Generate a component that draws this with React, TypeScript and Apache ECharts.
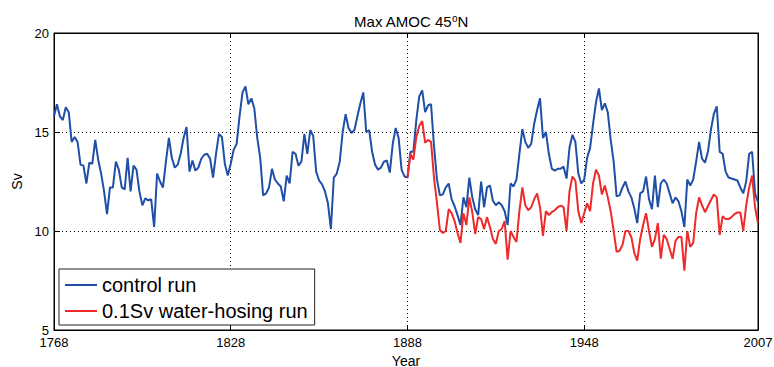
import React, { useEffect, useRef } from "react";
import * as echarts from "echarts";

const FIRST_YEAR = 1768;
const LAST_YEAR = 2007;
const HOSING_START = 1888;
const xLabelYears = [1768, 1828, 1888, 1948, 2007];
const xGridYears = [1828, 1888, 1948];
const yMin = 5;
const yMax = 20;
const yStep = 5;

// control run, one value per year 1768..2007
const controlRun = [
  15.8, 16.4, 15.8, 15.6, 16.25, 16.0, 14.5, 14.75, 14.5, 13.35,
  13.3, 12.4, 13.45, 13.4, 14.6, 13.6, 12.9, 12.0, 10.85, 12.2,
  12.2, 13.5, 13.1, 12.2, 12.1, 13.7, 12.0, 13.3, 13.1, 12.0,
  11.3, 11.65, 11.55, 11.6, 10.2, 12.9, 12.5, 12.2, 13.5, 14.7,
  13.7, 13.2, 13.35, 13.9, 14.7, 15.25, 13.0, 13.56, 13.05, 13.2,
  13.65, 13.85, 13.9, 13.65, 12.7, 13.9, 14.9, 14.75, 13.4, 12.8,
  13.4, 14.1, 14.4, 15.8, 17.0, 17.3, 16.4, 16.7, 16.2, 14.7,
  13.7, 11.8, 11.9, 12.2, 13.14, 12.6, 12.4, 12.25, 11.5, 12.8,
  12.4, 14.0, 13.9, 13.3, 13.5, 14.9, 13.9, 15.1, 14.8, 13.0,
  12.55, 12.35, 12.0, 11.4, 10.1, 12.7, 12.9, 13.5, 15.0, 15.9,
  15.2, 14.95, 15.1, 15.8, 16.44, 17.0, 15.0, 15.1, 14.0, 13.35,
  13.1, 13.2, 13.5, 13.56, 12.95, 14.4, 15.2, 14.7, 13.1, 12.75,
  12.7, 14.0, 14.0, 15.6, 16.8, 17.1, 16.0, 16.35, 16.4, 14.3,
  12.63, 11.8, 11.85, 12.2, 12.4, 11.6, 11.25, 10.8, 10.3, 11.7,
  11.2, 12.7, 11.7, 11.1, 10.8, 12.5, 11.2, 12.2, 12.3, 11.53,
  11.3, 11.45, 11.3, 11.0, 10.3, 12.4, 12.25, 12.6, 13.9, 15.15,
  14.5, 14.2, 14.4, 15.4, 16.1, 16.7, 14.7, 15.0, 13.9, 13.15,
  13.05, 13.14, 13.15, 13.25, 12.65, 14.2, 14.85, 14.5, 12.9, 12.4,
  12.6, 13.7, 14.2, 15.4, 16.5, 17.2, 16.1, 16.45, 16.0, 14.6,
  13.5, 11.75, 11.8, 12.2, 12.5, 12.0, 11.7, 11.15, 10.4, 11.9,
  12.0, 12.75, 11.6, 11.1, 12.8, 11.2, 12.4, 12.6, 12.4, 11.9,
  11.4, 11.7, 11.5, 11.0, 10.2, 12.6, 12.3, 12.6, 13.5, 14.5,
  13.65, 13.45, 14.0, 15.1, 15.9, 16.3, 14.0, 13.9, 13.0, 12.7,
  12.65, 12.6, 12.55, 12.2, 11.9, 12.5, 13.9, 14.0, 11.9, 11.45,
];

// 0.1Sv water-hosing run, one value per year 1888..2007
const hosingRun = [
  12.7, 13.9, 13.6, 14.75, 15.3, 15.55, 14.45, 14.6, 14.5, 12.7,
  11.45, 10.05, 9.9, 10.0, 11.1, 10.9, 10.5, 9.9, 9.4, 10.9,
  10.3, 11.7, 10.95, 9.85, 10.7, 10.6, 10.1, 10.7, 10.2, 9.6,
  9.35, 10.0, 10.1, 10.5, 8.55, 10.0, 9.7, 9.45, 11.0, 12.2,
  11.3, 11.05, 11.2, 11.6, 11.9, 11.2, 9.75, 11.0, 10.8, 10.95,
  11.05, 11.2, 11.28, 11.2, 10.0, 12.0, 12.75, 12.55, 11.0, 10.4,
  10.9, 11.4, 11.0, 12.4, 13.1, 12.8, 11.85, 12.3, 11.7, 11.0,
  10.0, 8.95, 9.0, 9.3, 10.0, 10.0, 9.7, 8.9, 8.5, 9.6,
  10.3, 10.9, 10.0, 9.2, 9.6, 10.4, 8.6, 9.8, 9.6, 9.1,
  8.6, 9.5, 9.7, 9.7, 8.0, 10.0, 9.2, 9.4, 10.9, 11.7,
  11.3, 10.95, 11.25, 11.55, 11.85, 11.7, 9.8, 10.75, 10.6, 10.6,
  10.7, 10.85, 10.94, 10.94, 10.0, 11.3, 12.2, 12.8, 11.2, 10.4,
];

const FONT = "'Liberation Sans', Arial, Helvetica, sans-serif";

export default function App() {
  const ref = useRef<HTMLDivElement>(null);

  useEffect(() => {
    if (!ref.current) return;
    const chart = echarts.init(ref.current, undefined, { renderer: "svg" });

    const years: string[] = [];
    for (let y = FIRST_YEAR; y <= LAST_YEAR; y++) years.push(String(y));
    const hosingData = years.map((y) => {
      const i = Number(y) - HOSING_START;
      return i >= 0 ? hosingRun[i] : "-";
    });

    const isLabel = (_i: number, v: string) => xLabelYears.includes(Number(v));
    const isGrid = (_i: number, v: string) => xGridYears.includes(Number(v));

    chart.setOption({
      animation: false,
      backgroundColor: "#fff",
      title: {
        text: "Max AMOC 45{sup|o}N",
        left: 406,
        textAlign: "center",
        top: 8,
        textStyle: {
          fontFamily: FONT,
          fontSize: 15,
          fontWeight: "normal",
          color: "#000",
          rich: {
            sup: { fontSize: 10, verticalAlign: "top", fontFamily: FONT, color: "#000", padding: [0, 0, 7, 0] },
          },
        },
      },
      grid: {
        left: 54,
        right: 16,
        top: 33,
        bottom: 37,
        outerBoundsMode: "none",
        containLabel: false,
        show: true,
        borderColor: "#000",
        borderWidth: 1,
        backgroundColor: "#fff",
      },
      legend: {
        orient: "vertical",
        left: 59,
        top: 269,
        backgroundColor: "#fff",
        borderColor: "#222",
        borderWidth: 1,
        borderRadius: 0,
        padding: [6, 7, 4, 6],
        itemGap: 6,
        itemWidth: 32,
        itemHeight: 2,
        textStyle: { fontFamily: FONT, fontSize: 20, color: "#000" },
        data: [
          { name: "control run", icon: "rect" },
          { name: "0.1Sv water-hosing run", icon: "rect" },
        ],
      },
      xAxis: [
        {
          type: "category",
          data: years,
          boundaryGap: false,
          name: "Year",
          nameLocation: "middle",
          nameGap: 21,
          nameTextStyle: { fontFamily: FONT, fontSize: 14, lineHeight: 14, color: "#000" },
          axisLine: { lineStyle: { color: "#000", width: 1 } },
          axisTick: { inside: true, length: 5, interval: isLabel, lineStyle: { color: "#000" } },
          axisLabel: {
            interval: isLabel,
            fontFamily: FONT,
            fontSize: 13,
            lineHeight: 13,
            color: "#000",
            margin: 6,
            showMinLabel: true,
            showMaxLabel: true,
          },
          splitLine: {
            show: true,
            interval: isGrid,
            lineStyle: { color: "#000", width: 1, type: [1, 3] },
          },
        },
        {
          type: "category",
          data: years,
          boundaryGap: false,
          position: "top",
          axisLine: { lineStyle: { color: "#000" } },
          axisTick: { inside: true, length: 5, interval: isLabel, lineStyle: { color: "#000" } },
          axisLabel: { show: false },
          splitLine: { show: false },
        },
      ],
      yAxis: [
        {
          type: "value",
          min: yMin,
          max: yMax,
          interval: yStep,
          name: "Sv",
          nameLocation: "middle",
          nameGap: 25,
          nameRotate: 90,
          nameTextStyle: { fontFamily: FONT, fontSize: 14, color: "#000" },
          axisLine: { show: true, lineStyle: { color: "#000" } },
          axisTick: { show: true, inside: true, length: 6, lineStyle: { color: "#000" } },
          axisLabel: { fontFamily: FONT, fontSize: 13, lineHeight: 11, color: "#000", margin: 5 },
          splitLine: { show: true, lineStyle: { color: "#000", width: 1, type: [1, 3] } },
        },
        {
          type: "value",
          min: yMin,
          max: yMax,
          interval: yStep,
          position: "right",
          axisLine: { show: true, lineStyle: { color: "#000" } },
          axisTick: { show: true, inside: true, length: 6, lineStyle: { color: "#000" } },
          axisLabel: { show: false },
          splitLine: { show: false },
        },
      ],
      series: [
        {
          name: "control run",
          type: "line",
          data: controlRun,
          showSymbol: false,
          symbol: "none",
          itemStyle: { color: "#1f4fa6" },
          lineStyle: { color: "#1f4fa6", width: 2 },
          z: 3,
        },
        {
          name: "0.1Sv water-hosing run",
          type: "line",
          data: hosingData,
          showSymbol: false,
          symbol: "none",
          itemStyle: { color: "#ee2a2a" },
          lineStyle: { color: "#ee2a2a", width: 2 },
          z: 4,
        },
      ],
    });

    return () => chart.dispose();
  }, []);

  return (
    <div
      ref={ref}
      style={{ position: "fixed", left: 0, top: 0, width: 774, height: 367, background: "#fff" }}
    />
  );
}
